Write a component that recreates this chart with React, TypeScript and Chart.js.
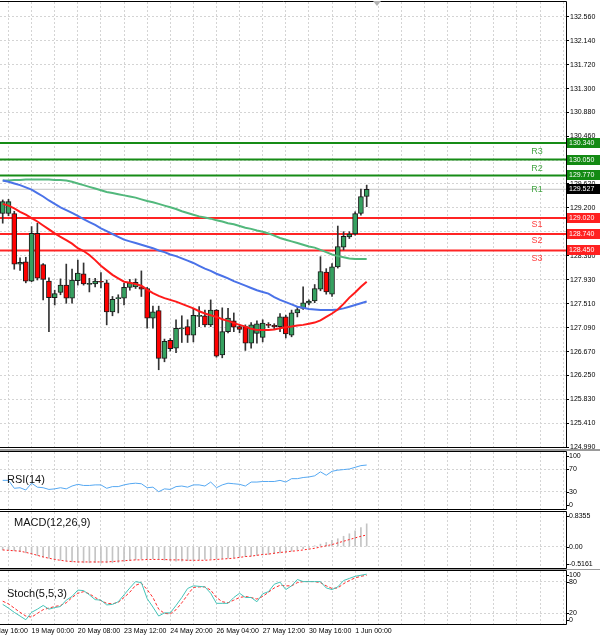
import React, { useEffect, useRef } from 'react';
import { Chart, registerables } from 'chart.js';

Chart.register(...registerables);

// ---------------- data ----------------
const opens = [129.10,129.10,129.10,128.21,128.25,127.91,128.75,128.20,127.91,127.62,127.71,127.84,127.61,127.92,128.04,127.85,127.86,127.90,127.88,127.37,127.60,127.61,127.80,127.81,127.81,127.78,127.26,127.39,126.55,126.87,126.73,127.07,127.11,126.96,127.29,127.30,127.14,127.40,126.61,127.02,127.21,127.11,127.11,126.82,126.99,126.92,127.15,127.13,127.11,127.28,126.96,127.35,127.43,127.52,127.56,127.77,128.07,127.68,128.16,128.51,128.69,128.74,129.10,129.40];
const highs = [129.34,129.35,129.14,128.32,128.33,128.87,128.93,128.22,127.97,127.75,127.95,128.21,128.12,128.28,128.23,127.96,127.96,128.06,127.93,127.64,127.67,127.87,127.94,127.95,128.09,127.80,127.47,127.47,126.89,126.90,127.23,127.30,127.23,127.43,127.46,127.40,127.58,127.41,127.44,127.43,127.35,127.14,127.14,127.18,127.21,127.23,127.18,127.16,127.34,127.31,127.40,127.45,127.81,127.58,127.85,128.34,128.13,128.22,128.88,128.78,128.78,129.13,129.53,129.60];
const lows = [128.93,129.06,128.12,128.10,127.88,127.90,127.93,127.58,127.02,127.49,127.67,127.52,127.52,127.84,127.84,127.72,127.81,127.79,127.14,127.30,127.35,127.49,127.75,127.78,127.64,127.08,127.08,126.35,126.49,126.68,126.65,126.83,126.83,126.84,127.11,127.11,127.11,126.57,126.56,127.00,127.02,127.00,126.69,126.73,126.82,126.84,127.09,127.07,127.02,126.91,126.93,127.28,127.41,127.49,127.53,127.74,127.68,127.64,128.14,128.46,128.66,128.72,129.07,129.22];
const closes = [129.31,129.31,128.21,128.24,127.91,128.75,127.96,127.94,127.62,127.69,127.84,127.61,127.93,128.05,127.86,127.87,127.91,127.89,127.37,127.59,127.62,127.80,127.88,127.89,127.77,127.26,127.37,126.55,126.85,126.72,127.08,127.09,126.96,127.31,127.30,127.14,127.40,126.59,127.02,127.26,127.10,127.06,126.82,127.14,127.16,127.17,127.13,127.11,127.28,126.98,127.35,127.41,127.53,127.56,127.78,128.08,127.72,128.16,128.52,128.70,128.74,129.10,129.40,129.527];

const maRed = [129.27,129.24,129.19,129.13,129.08,129.02,128.96,128.89,128.82,128.75,128.69,128.63,128.57,128.49,128.44,128.37,128.28,128.18,128.10,128.02,127.96,127.90,127.88,127.86,127.83,127.76,127.70,127.65,127.61,127.58,127.55,127.51,127.47,127.43,127.38,127.34,127.31,127.28,127.24,127.21,127.17,127.14,127.11,127.07,127.05,127.05,127.05,127.06,127.08,127.10,127.11,127.13,127.14,127.16,127.18,127.22,127.28,127.34,127.41,127.51,127.62,127.71,127.81,127.90];
const maBlue = [129.68,129.66,129.63,129.60,129.56,129.52,129.46,129.40,129.33,129.27,129.21,129.16,129.11,129.06,129.00,128.95,128.90,128.84,128.79,128.74,128.69,128.64,128.61,128.58,128.55,128.52,128.49,128.45,128.42,128.38,128.35,128.31,128.27,128.23,128.18,128.13,128.09,128.04,128.00,127.96,127.91,127.87,127.83,127.79,127.75,127.72,127.69,127.63,127.58,127.54,127.50,127.46,127.44,127.42,127.41,127.40,127.40,127.40,127.41,127.43,127.46,127.49,127.52,127.55];
const maGreen = [129.68,129.68,129.69,129.69,129.70,129.70,129.70,129.70,129.70,129.69,129.69,129.68,129.66,129.63,129.60,129.57,129.54,129.51,129.48,129.46,129.44,129.42,129.40,129.38,129.35,129.32,129.30,129.27,129.24,129.21,129.18,129.14,129.11,129.08,129.05,129.03,129.01,128.98,128.96,128.93,128.91,128.88,128.85,128.83,128.80,128.78,128.75,128.71,128.67,128.64,128.61,128.58,128.55,128.52,128.50,128.46,128.42,128.38,128.35,128.33,128.31,128.30,128.30,128.30];

const resistanceNames = ['R3', 'R2', 'R1'];
const resistanceLevels = [130.34, 130.05, 129.77];
const supportNames = ['S1', 'S2', 'S3'];
const supportLevels = [129.02, 128.74, 128.45];
const lastPrice = 129.527;
const priceTicks = [132.56,132.14,131.72,131.30,130.88,130.46,130.04,129.62,129.20,128.78,128.36,127.93,127.51,127.09,126.67,126.25,125.83,125.41,124.99];

const rsiValues = [50,50,36,37,33,45,38,37,34,35,37,35,40,43,41,41,42,42,36,39,39,42,44,45,44,37,38,30,35,34,39,40,38,42,42,40,47,37,42,45,44,43,40,47,47,48,48,48,50,47,53,53,55,56,58,65,59,66,68,69,70,73,76,77];
const rsiTickValues = [100, 70, 30, 0];
const rsiTickLabels = ['100', '70', '30', '0'];

const macdHist = [-0.08,-0.09,-0.10,-0.12,-0.15,-0.19,-0.22,-0.25,-0.28,-0.31,-0.33,-0.35,-0.37,-0.38,-0.39,-0.39,-0.39,-0.40,-0.39,-0.39,-0.38,-0.36,-0.34,-0.32,-0.30,-0.30,-0.29,-0.31,-0.33,-0.34,-0.35,-0.35,-0.34,-0.33,-0.32,-0.31,-0.30,-0.30,-0.29,-0.28,-0.27,-0.25,-0.24,-0.23,-0.21,-0.20,-0.19,-0.17,-0.15,-0.13,-0.11,-0.08,-0.05,-0.02,0.02,0.06,0.10,0.15,0.19,0.25,0.31,0.38,0.46,0.55];
const macdSignal = [-0.08,-0.09,-0.10,-0.11,-0.14,-0.17,-0.21,-0.25,-0.28,-0.31,-0.33,-0.35,-0.36,-0.37,-0.37,-0.37,-0.37,-0.37,-0.37,-0.36,-0.35,-0.34,-0.33,-0.32,-0.32,-0.31,-0.31,-0.31,-0.31,-0.32,-0.32,-0.32,-0.33,-0.33,-0.33,-0.33,-0.32,-0.31,-0.30,-0.29,-0.28,-0.26,-0.24,-0.23,-0.21,-0.19,-0.18,-0.16,-0.14,-0.13,-0.11,-0.10,-0.08,-0.06,-0.04,-0.01,0.02,0.05,0.09,0.13,0.17,0.21,0.25,0.28];
const macdMax = 0.8355;
const macdMin = -0.5161;
const macdTickValues = [0.8355, 0, -0.5161];
const macdTickLabels = ['0.8355', '0.00', '-0.5161'];

const stochMain = [37,30,22,15,8,22,28,35,28,31,33,45,52,64,63,55,46,45,36,37,42,55,68,80,78,48,32,15,21,21,35,50,67,72,71,70,58,39,39,39,50,58,50,50,42,57,61,75,79,65,72,84,80,80,80,80,68,65,70,82,86,90,92,94];
const stochSignal = [43,38,30,22,15,13,20,27,30,33,35,40,50,58,61,57,50,44,39,38,41,50,60,73,77,65,50,28,20,19,27,40,55,69,70,70,64,50,42,40,45,50,52,50,47,52,60,68,73,72,72,78,80,80,80,78,72,67,68,76,82,87,90,92];
const stochTickValues = [100, 80, 20, 0];
const stochTickLabels = ['100', '80', '20', '0'];

const dateTickIndex = [-3, 5, 13, 21, 29, 37, 45, 53, 61];
const dateTickLabels = ['18 May 16:00', '19 May 00:00', '20 May 08:00', '23 May 12:00', '24 May 20:00', '26 May 04:00', '27 May 12:00', '30 May 16:00', '1 Jun 00:00'];

// ---------------- style ----------------
const X_MIN = -0.47;
const X_MAX = 97.5;
const GRID = '#d4d4d4';
const FONT = '"Liberation Sans", Arial, sans-serif';
const BULL = '#36a160';
const BEAR = '#ff0000';
const gridIndex: number[] = [];
for (let k = 1; k <= 97; k += 4) gridIndex.push(k);

const toLine = (arr: number[]) => arr.map((y, i) => ({ x: i, y }));
const hline = (y: number) => [{ x: X_MIN, y }, { x: X_MAX, y }];
const lineDs = (data: any[], color: string, width: number, order: number, extra: any = {}) => ({
  type: 'line', data, borderColor: color, borderWidth: width, pointRadius: 0, tension: 0, order, ...extra,
});

function xScale(withLabels: boolean): any {
  const tickVals = withLabels
    ? Array.from(new Set([...dateTickIndex, ...gridIndex])).sort((a, b) => a - b)
    : gridIndex;
  return {
    type: 'linear', min: X_MIN, max: X_MAX, offset: false,
    grid: { color: GRID, drawTicks: false, offset: false },
    border: { display: false, dash: [2, 2] },
    ticks: withLabels
      ? {
          display: true, font: { family: FONT, size: 7 }, color: '#000', align: 'start',
          maxRotation: 0, minRotation: 0, autoSkip: false, padding: 3,
          callback: (v: any) => {
            const k = dateTickIndex.indexOf(Number(v));
            return k >= 0 ? dateTickLabels[k] : '';
          },
        }
      : { display: false },
    afterBuildTicks: (s: any) => { s.ticks = tickVals.map((v) => ({ value: v })); },
    afterFit: (s: any) => { s.height = withLabels ? 17 : 0; s.paddingLeft = 0; s.paddingRight = 0; },
  };
}

function subY(min: number, max: number, gridVals: number[]): any {
  return {
    type: 'linear', position: 'right', min, max,
    grid: { color: GRID, drawTicks: false },
    border: { display: false, dash: [2, 2] },
    ticks: { display: false },
    afterBuildTicks: (s: any) => { s.ticks = gridVals.map((v) => ({ value: v })); },
    afterFit: (s: any) => { s.width = 34; s.paddingTop = 0; s.paddingBottom = 0; },
  };
}

function drawFrame(chart: any, sep: number | null) {
  const { ctx, chartArea } = chart;
  const { top, bottom, right } = chartArea;
  ctx.save();
  if (sep !== null) {
    ctx.fillStyle = '#9a9a9a';
    ctx.fillRect(0, 0, chart.width, sep);
  }
  ctx.strokeStyle = '#000';
  ctx.lineWidth = 1;
  ctx.beginPath();
  ctx.moveTo(0, top - 0.5);
  ctx.lineTo(right + 0.5, top - 0.5);
  ctx.lineTo(right + 0.5, bottom + 0.5);
  ctx.lineTo(0, bottom + 0.5);
  ctx.stroke();
  ctx.restore();
}

function panelPlugin(opts: { title: string; tx: number; ty: number; values: number[]; labels: string[]; sep: number | null }) {
  return {
    id: 'panelDecor',
    afterDraw(chart: any) {
      drawFrame(chart, opts.sep);
      const { ctx, chartArea } = chart;
      const ys = chart.scales.y;
      ctx.save();
      ctx.font = `7px ${FONT}`;
      ctx.fillStyle = '#000';
      ctx.strokeStyle = '#000';
      ctx.textBaseline = 'middle';
      ctx.textAlign = 'left';
      opts.values.forEach((v, k) => {
        let y = ys.getPixelForValue(v);
        y = Math.min(Math.max(y, chartArea.top + 4), chartArea.bottom - 4);
        ctx.beginPath();
        ctx.moveTo(chartArea.right, Math.round(y) + 0.5);
        ctx.lineTo(chartArea.right + 3, Math.round(y) + 0.5);
        ctx.stroke();
        ctx.fillText(opts.labels[k], chartArea.right + 3, y);
      });
      ctx.font = `11px ${FONT}`;
      ctx.fillStyle = '#111';
      ctx.fillText(opts.title, opts.tx, opts.ty);
      ctx.restore();
    },
  };
}

const rLabelOffsets = [8, 9, 14];
const sLabelOffsets = [6, 7, 8];

const mainDecor = {
  id: 'mainDecor',
  afterDraw(chart: any) {
    drawFrame(chart, null);
    const { ctx, chartArea } = chart;
    const ys = chart.scales.y;
    const right = chartArea.right;
    ctx.save();
    // pivot names
    ctx.font = `9px ${FONT}`;
    ctx.textAlign = 'center';
    ctx.textBaseline = 'middle';
    resistanceLevels.forEach((v, k) => {
      ctx.fillStyle = '#46a646';
      ctx.fillText(resistanceNames[k], 537, ys.getPixelForValue(v) + rLabelOffsets[k]);
    });
    supportLevels.forEach((v, k) => {
      ctx.fillStyle = '#ff4040';
      ctx.fillText(supportNames[k], 537, ys.getPixelForValue(v) + sLabelOffsets[k]);
    });
    // price boxes
    const box = (v: number, color: string) => {
      const y = Math.round(ys.getPixelForValue(v));
      ctx.fillStyle = color;
      ctx.fillRect(right + 1, y - 5, 33, 10);
      ctx.fillStyle = '#fff';
      ctx.font = `7px ${FONT}`;
      ctx.textAlign = 'left';
      ctx.textBaseline = 'middle';
      ctx.fillText(v.toFixed(3), right + 3, y);
    };
    resistanceLevels.forEach((v) => box(v, '#138a13'));
    supportLevels.forEach((v) => box(v, '#ff2020'));
    box(lastPrice, '#000');
    // chart shift marker
    ctx.fillStyle = '#b4b4b4';
    ctx.beginPath();
    ctx.moveTo(373, chartArea.top - 1);
    ctx.lineTo(381, chartArea.top - 1);
    ctx.lineTo(377, chartArea.top + 4);
    ctx.closePath();
    ctx.fill();
    ctx.restore();
  },
};

function mainConfig(): any {
  const idx = closes.map((_, i) => i);
  return {
    type: 'bar',
    data: {
      datasets: [
        lineDs(toLine(maRed), '#ff1a1a', 2, 1),
        lineDs(toLine(maBlue), '#4a72e8', 2, 1),
        lineDs(toLine(maGreen), '#52b87c', 2, 1),
        {
          type: 'bar', data: idx.map((i) => ({ x: i, y: [opens[i], closes[i]] })),
          backgroundColor: idx.map((i) => (closes[i] >= opens[i] ? BULL : BEAR)),
          borderColor: '#1a1a1a', borderWidth: 1, borderSkipped: false,
          barThickness: 5, minBarLength: 1, grouped: false, order: 2,
        },
        {
          type: 'bar', data: idx.map((i) => ({ x: i, y: [lows[i], highs[i]] })),
          backgroundColor: '#333', borderWidth: 0, barThickness: 1, grouped: false, order: 3,
        },
        ...resistanceLevels.map((v) => lineDs(hline(v), '#168c16', 2, 4)),
        ...supportLevels.map((v) => lineDs(hline(v), '#ff2424', 2, 4)),
        lineDs(hline(lastPrice), '#c4c4c4', 1, 5),
      ],
    },
    options: {
      responsive: false, animation: false, events: [],
      layout: { padding: { top: 2, bottom: 2, left: 0, right: 0 } },
      plugins: { legend: { display: false }, tooltip: { enabled: false } },
      scales: {
        x: xScale(false),
        y: {
          type: 'linear', position: 'right', min: 124.99, max: 132.824,
          grid: { color: GRID, drawTicks: true, tickLength: 3, tickColor: '#000', tickBorderDash: [] },
          border: { display: false, dash: [2, 2] },
          ticks: { font: { family: FONT, size: 7 }, color: '#000', padding: 1, callback: (v: any) => Number(v).toFixed(3) },
          afterBuildTicks: (s: any) => { s.ticks = priceTicks.map((v) => ({ value: v })); },
          afterFit: (s: any) => { s.width = 34; s.paddingTop = 0; s.paddingBottom = 0; },
        },
      },
    },
    plugins: [mainDecor],
  };
}

function rsiConfig(): any {
  return {
    type: 'line',
    data: { datasets: [lineDs(toLine(rsiValues), '#55a8f2', 1, 1)] },
    options: {
      responsive: false, animation: false, events: [],
      layout: { padding: { top: 3, bottom: 2, left: 0, right: 0 } },
      plugins: { legend: { display: false }, tooltip: { enabled: false } },
      scales: { x: xScale(false), y: subY(-0.5, 100, [70, 30]) },
    },
    plugins: [panelPlugin({ title: 'RSI(14)', tx: 7, ty: 31, values: rsiTickValues, labels: rsiTickLabels, sep: 2 })],
  };
}

function macdConfig(): any {
  return {
    type: 'bar',
    data: {
      datasets: [
        lineDs(toLine(macdSignal), '#ff2020', 1, 1, { borderDash: [2, 2] }),
        { type: 'bar', data: toLine(macdHist), backgroundColor: '#c4c4c4', borderWidth: 0, barThickness: 1, grouped: false, order: 2 },
      ],
    },
    options: {
      responsive: false, animation: false, events: [],
      layout: { padding: { top: 1, bottom: 1, left: 0, right: 0 } },
      plugins: { legend: { display: false }, tooltip: { enabled: false } },
      scales: { x: xScale(false), y: subY(macdMin, macdMax, [0]) },
    },
    plugins: [panelPlugin({ title: 'MACD(12,26,9)', tx: 14, ty: 12, values: macdTickValues, labels: macdTickLabels, sep: null })],
  };
}

function stochConfig(): any {
  return {
    type: 'line',
    data: {
      datasets: [
        lineDs(toLine(stochMain), '#45c4b8', 1, 1),
        lineDs(toLine(stochSignal), '#ff2a2a', 1, 2, { borderDash: [3, 2] }),
      ],
    },
    options: {
      responsive: false, animation: false, events: [],
      layout: { padding: { top: 2, bottom: 0, left: 0, right: 0 } },
      plugins: { legend: { display: false }, tooltip: { enabled: false } },
      scales: { x: xScale(true), y: subY(0, 100, [80, 20]) },
    },
    plugins: [panelPlugin({ title: 'Stoch(5,5,3)', tx: 7, ty: 25, values: stochTickValues, labels: stochTickLabels, sep: 1 })],
  };
}

export default function App() {
  const mainRef = useRef<HTMLCanvasElement>(null);
  const rsiRef = useRef<HTMLCanvasElement>(null);
  const macdRef = useRef<HTMLCanvasElement>(null);
  const stochRef = useRef<HTMLCanvasElement>(null);

  useEffect(() => {
    document.body.style.margin = '0';
    document.body.style.background = '#fff';
    const charts: Chart[] = [];
    charts.push(new Chart(mainRef.current as HTMLCanvasElement, mainConfig()));
    charts.push(new Chart(rsiRef.current as HTMLCanvasElement, rsiConfig()));
    charts.push(new Chart(macdRef.current as HTMLCanvasElement, macdConfig()));
    charts.push(new Chart(stochRef.current as HTMLCanvasElement, stochConfig()));
    return () => charts.forEach((c) => c.destroy());
  }, []);

  return (
    <div style={{ width: 600, background: '#fff' }}>
      <canvas ref={mainRef} width={600} height={449} style={{ display: 'block' }} />
      <canvas ref={rsiRef} width={600} height={62} style={{ display: 'block' }} />
      <canvas ref={macdRef} width={600} height={58} style={{ display: 'block' }} />
      <canvas ref={stochRef} width={600} height={72} style={{ display: 'block' }} />
    </div>
  );
}
